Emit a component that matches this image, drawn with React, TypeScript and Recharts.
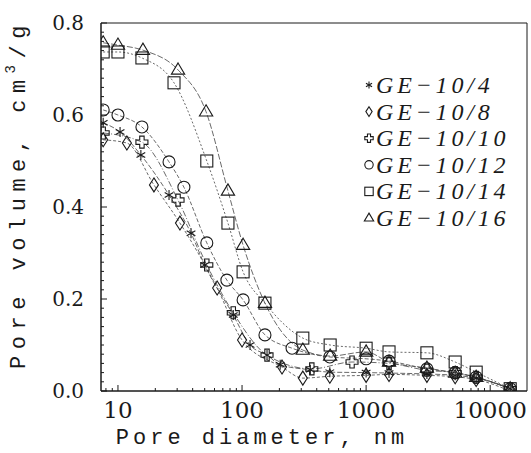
import React from 'react';
import { ComposedChart, Line, XAxis, YAxis, ReferenceArea } from 'recharts';

// --- Data ---
const SERIES_NAMES = ['GE\u221210/4', 'GE\u221210/8', 'GE\u221210/10', 'GE\u221210/12', 'GE\u221210/14', 'GE\u221210/16'];

const X_GE4 = [7.6, 10.4, 15.3, 25.8, 38.8, 50, 85, 116, 159, 203, 355, 510, 1000, 1530, 3090, 5220, 7710, 14500];
const Y_GE4 = [0.583, 0.563, 0.513, 0.426, 0.343, 0.274, 0.165, 0.10, 0.078, 0.057, 0.046, 0.041, 0.040, 0.039, 0.037, 0.034, 0.028, 0.005];

const X_GE8 = [7.6, 11.8, 19.5, 31.6, 63, 100, 210, 309, 510, 1000, 1530, 3090, 5220, 7710, 14500];
const Y_GE8 = [0.546, 0.539, 0.448, 0.365, 0.224, 0.111, 0.052, 0.028, 0.032, 0.034, 0.036, 0.034, 0.031, 0.025, 0.0];

const X_GE10 = [7.6, 15.6, 30.5, 52, 85, 159, 365, 770, 1530, 3090, 5220, 7710, 14500];
const Y_GE10 = [0.561, 0.541, 0.415, 0.274, 0.17, 0.078, 0.048, 0.063, 0.060, 0.045, 0.040, 0.030, 0.005];

const X_GE12 = [7.6, 10, 15.6, 25.8, 34, 52, 75.5, 102, 153, 253, 510, 1000, 1530, 3090, 5220, 7710, 14500];
const Y_GE12 = [0.611, 0.600, 0.574, 0.498, 0.443, 0.322, 0.241, 0.198, 0.122, 0.093, 0.074, 0.070, 0.065, 0.048, 0.040, 0.030, 0.005];

const X_GE14 = [7.6, 10, 15.6, 28.3, 52, 77, 102, 153, 309, 513, 1000, 1530, 3090, 5220, 7710, 14500];
const Y_GE14 = [0.737, 0.737, 0.724, 0.670, 0.50, 0.365, 0.259, 0.191, 0.115, 0.10, 0.093, 0.085, 0.083, 0.063, 0.041, 0.005];

const X_GE16 = [7.6, 10, 15.9, 30.5, 51.3, 77, 102, 153, 309, 513, 1000, 1530, 3090, 5220, 7710, 14500];
const Y_GE16 = [0.757, 0.752, 0.741, 0.698, 0.607, 0.435, 0.317, 0.191, 0.089, 0.076, 0.085, 0.063, 0.050, 0.039, 0.030, 0.005];

const X_MAJOR = [10, 100, 1000, 10000];
const X_MINOR = [8, 9, 20, 30, 40, 50, 60, 70, 80, 90, 200, 300, 400, 500, 600, 700, 800, 900,
    2000, 3000, 4000, 5000, 6000, 7000, 8000, 9000];
const Y_MAJOR = [0, 0.2, 0.4, 0.6, 0.8];
const Y_STEP = 0.02;

const X_DOMAIN: [number, number] = [7.3, 19800];
const Y_DOMAIN: [number, number] = [0, 0.8];

type Kind = 'star' | 'diamond' | 'cross' | 'circle' | 'square' | 'triangle';
const KINDS: Kind[] = ['star', 'diamond', 'cross', 'circle', 'square', 'triangle'];
const DASHES = ['5 2', '3 2', '6 2 1 2', '4 2', '2 2', '6 2'];

const toRows = (xs: number[], ys: number[]) => xs.map((x, i) => ({ x, y: ys[i] }));
const SERIES = [
    toRows(X_GE4, Y_GE4),
    toRows(X_GE8, Y_GE8),
    toRows(X_GE10, Y_GE10),
    toRows(X_GE12, Y_GE12),
    toRows(X_GE14, Y_GE14),
    toRows(X_GE16, Y_GE16),
];

const INK = '#1a1a1a';

const Marker = ({ kind, cx, cy, s = 1 }: { kind: Kind; cx: number; cy: number; s?: number }) => {
    const p = { fill: 'none', stroke: INK, strokeWidth: 1.1 };
    if (cx == null || cy == null) return null;
    switch (kind) {
        case 'star': {
            const r = 5 * s;
            return (
                <g {...p}>
                    <line x1={cx} y1={cy - r} x2={cx} y2={cy + r} />
                    <line x1={cx - r * 0.87} y1={cy - r / 2} x2={cx + r * 0.87} y2={cy + r / 2} />
                    <line x1={cx - r * 0.87} y1={cy + r / 2} x2={cx + r * 0.87} y2={cy - r / 2} />
                </g>
            );
        }
        case 'diamond': {
            const w = 4.5 * s, h = 7 * s;
            return <polygon {...p} points={`${cx},${cy - h} ${cx + w},${cy} ${cx},${cy + h} ${cx - w},${cy}`} />;
        }
        case 'cross': {
            const a = 2.2 * s, b = 6 * s;
            const pts = [[-a, -b], [a, -b], [a, -a], [b, -a], [b, a], [a, a], [a, b], [-a, b], [-a, a], [-b, a], [-b, -a], [-a, -a]]
                .map(([dx, dy]) => `${cx + dx},${cy + dy}`).join(' ');
            return <polygon {...p} points={pts} />;
        }
        case 'circle':
            return <circle {...p} cx={cx} cy={cy} r={6 * s} />;
        case 'square':
            return <rect {...p} x={cx - 6 * s} y={cy - 6 * s} width={12 * s} height={12 * s} />;
        case 'triangle': {
            const r = 7 * s;
            return <polygon {...p} points={`${cx},${cy - r} ${cx + r * 0.95},${cy + r * 0.6} ${cx - r * 0.95},${cy + r * 0.6}`} />;
        }
    }
    return null;
};

const XTick = ({ x, y, payload }: any) => {
    const major = X_MAJOR.includes(payload.value);
    return (
        <g>
            <line x1={x} y1={y} x2={x} y2={y - (major ? 6 : 3)} stroke={INK} />
            {major && (
                <text x={x} y={y + 27} textAnchor="middle" fontFamily="DejaVu Serif" fontSize={23} fill={INK}>
                    {payload.value}
                </text>
            )}
        </g>
    );
};

const YTick = ({ x, y, payload }: any) => {
    const v = payload.value;
    const major = Y_MAJOR.some((m) => Math.abs(m - v) < 1e-6);
    return (
        <g>
            <line x1={x} y1={y} x2={x + (major ? 6 : 3)} y2={y} stroke={INK} />
            {major && (
                <text x={x - 17} y={y + 7} textAnchor="end" fontFamily="DejaVu Serif" fontSize={20} fill={INK}>
                    {v.toFixed(1)}
                </text>
            )}
        </g>
    );
};

const XLabel = ({ viewBox }: any) => (
    <text x={viewBox.x + 161} y={viewBox.y + 53} textAnchor="middle" fontFamily="Liberation Mono" fontSize={22}
        letterSpacing={4} fill={INK}>
        Pore diameter, nm
    </text>
);

const YLabel = () => {
    const cx = 19, cy = 194;
    return (
        <text x={cx} y={cy} transform={`rotate(-90, ${cx}, ${cy})`} textAnchor="middle" dominantBaseline="central"
            fontFamily="Liberation Mono" fontSize={22} letterSpacing={6.5} fill={INK}>
            Pore volume, cm<tspan dy={-8} fontSize={14}>3</tspan><tspan dy={8}>/g</tspan>
        </text>
    );
};

const LegendBox = () => (
    <svg width={170} height={165} style={{ position: 'absolute', left: 361, top: 68 }}>
        {SERIES_NAMES.map((name, i) => {
            const cy = 17 + i * 26.6;
            return (
                <g key={name}>
                    <Marker kind={KINDS[i]} cx={8} cy={cy} s={0.7} />
                    <text x={15} y={cy + 8} fontFamily="Liberation Serif" fontStyle="italic" fontSize={24}
                        letterSpacing={3.8} fill={INK}>
                        {name}
                    </text>
                </g>
            );
        })}
    </svg>
);

const yTicks: number[] = [];
for (let v = 0; v <= 0.8 + 1e-9; v += Y_STEP) yTicks.push(Math.round(v * 100) / 100);
const xTicks = [...X_MAJOR, ...X_MINOR].sort((a, b) => a - b);

export default function App() {
    return (
        <div style={{ position: 'absolute', left: 0, top: 0, width: 531, height: 453, background: '#fff' }}>
            <ComposedChart width={531} height={453} margin={{ top: 23, right: 4, bottom: 0, left: 0 }}>
                <XAxis
                    type="number"
                    dataKey="x"
                    scale="log"
                    domain={X_DOMAIN}
                    ticks={xTicks}
                    interval={0}
                    allowDataOverflow
                    height={62}
                    tickSize={0}
                    tickMargin={0}
                    tickLine={false}
                    axisLine={{ stroke: INK }}
                    tick={<XTick />}
                    label={<XLabel />}
                />
                <YAxis
                    type="number"
                    dataKey="y"
                    domain={Y_DOMAIN}
                    ticks={yTicks}
                    interval={0}
                    allowDataOverflow
                    width={101}
                    tickSize={0}
                    tickMargin={0}
                    tickLine={false}
                    axisLine={{ stroke: INK }}
                    tick={<YTick />}
                    label={<YLabel />}
                />
                <ReferenceArea x1={X_DOMAIN[0]} x2={X_DOMAIN[1]} y1={0} y2={0.8} fill="none" stroke={INK} strokeWidth={1} />
                {SERIES.map((rows, i) => (
                    <Line
                        key={SERIES_NAMES[i]}
                        data={rows}
                        dataKey="y"
                        name={SERIES_NAMES[i]}
                        type="monotone"
                        stroke="#444"
                        strokeWidth={0.8}
                        strokeDasharray={DASHES[i]}
                        isAnimationActive={false}
                        dot={(p: any) => <Marker key={`${i}-${p.index}`} kind={KINDS[i]} cx={p.cx} cy={p.cy} />}
                        activeDot={false}
                    />
                ))}
            </ComposedChart>
            <LegendBox />
        </div>
    );
}
